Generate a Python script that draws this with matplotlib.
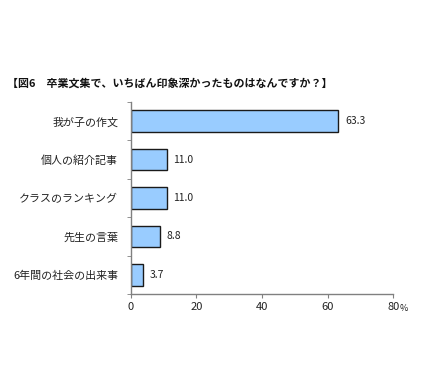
import matplotlib
matplotlib.use("Agg")
import matplotlib.pyplot as plt

plt.rcParams['font.family'] = ['Noto Sans CJK JP', 'DejaVu Sans']

categories = ["我が子の作文", "個人の紹介記事", "クラスのランキング", "先生の言葉", "6年間の社会の出来事"]
values = [63.3, 11.0, 11.0, 8.8, 3.7]
value_labels = ["63.3", "11.0", "11.0", "8.8", "3.7"]
xticks = [0, 20, 40, 60, 80]
xtick_labels = ["0", "20", "40", "60", "80"]
title = "【図6　卒業文集で、いちばん印象深かったものはなんですか？】"

fig = plt.figure(figsize=(4.35, 3.75), dpi=100)
ax = fig.add_axes([0.3005, 0.216, 0.6035, 0.512])

ypos = list(range(len(categories)))
ax.barh(ypos, values, height=0.56, color="#99CCFF", edgecolor="#1a1a1a", linewidth=1.0)
ax.set_ylim(len(categories) - 0.5, -0.5)
ax.set_xlim(0, 80)

for y, v, lab in zip(ypos, values, value_labels):
    ax.text(v + 2.0, y, lab, va="center", ha="left", fontsize=7.5, color="#222222")

ax.set_yticks(ypos)
ax.set_yticklabels(categories, fontsize=7.9, color="#222222")
ax.tick_params(axis="y", length=0, pad=9)
# boundary ticks on y axis
ax.set_yticks([i + 0.5 for i in range(-1, len(categories))], minor=True)
ax.tick_params(axis="y", which="minor", length=3, color="#808080", direction="out")

ax.set_xticks(xticks)
ax.set_xticklabels(xtick_labels, fontsize=8, color="#222222")
ax.tick_params(axis="x", length=3, color="#808080", direction="out", pad=3)
fig.text(0.918, 0.178, "%", fontsize=6.5, color="#222222", ha="left", va="center")

for s in ["top", "right"]:
    ax.spines[s].set_visible(False)
for s in ["left", "bottom"]:
    ax.spines[s].set_color("#808080")
    ax.spines[s].set_linewidth(1.0)

fig.text(0.016, 0.778, title, fontsize=7.9, fontweight="bold", ha="left", va="center", color="#111111")

fig.savefig("out.png", dpi=100)
